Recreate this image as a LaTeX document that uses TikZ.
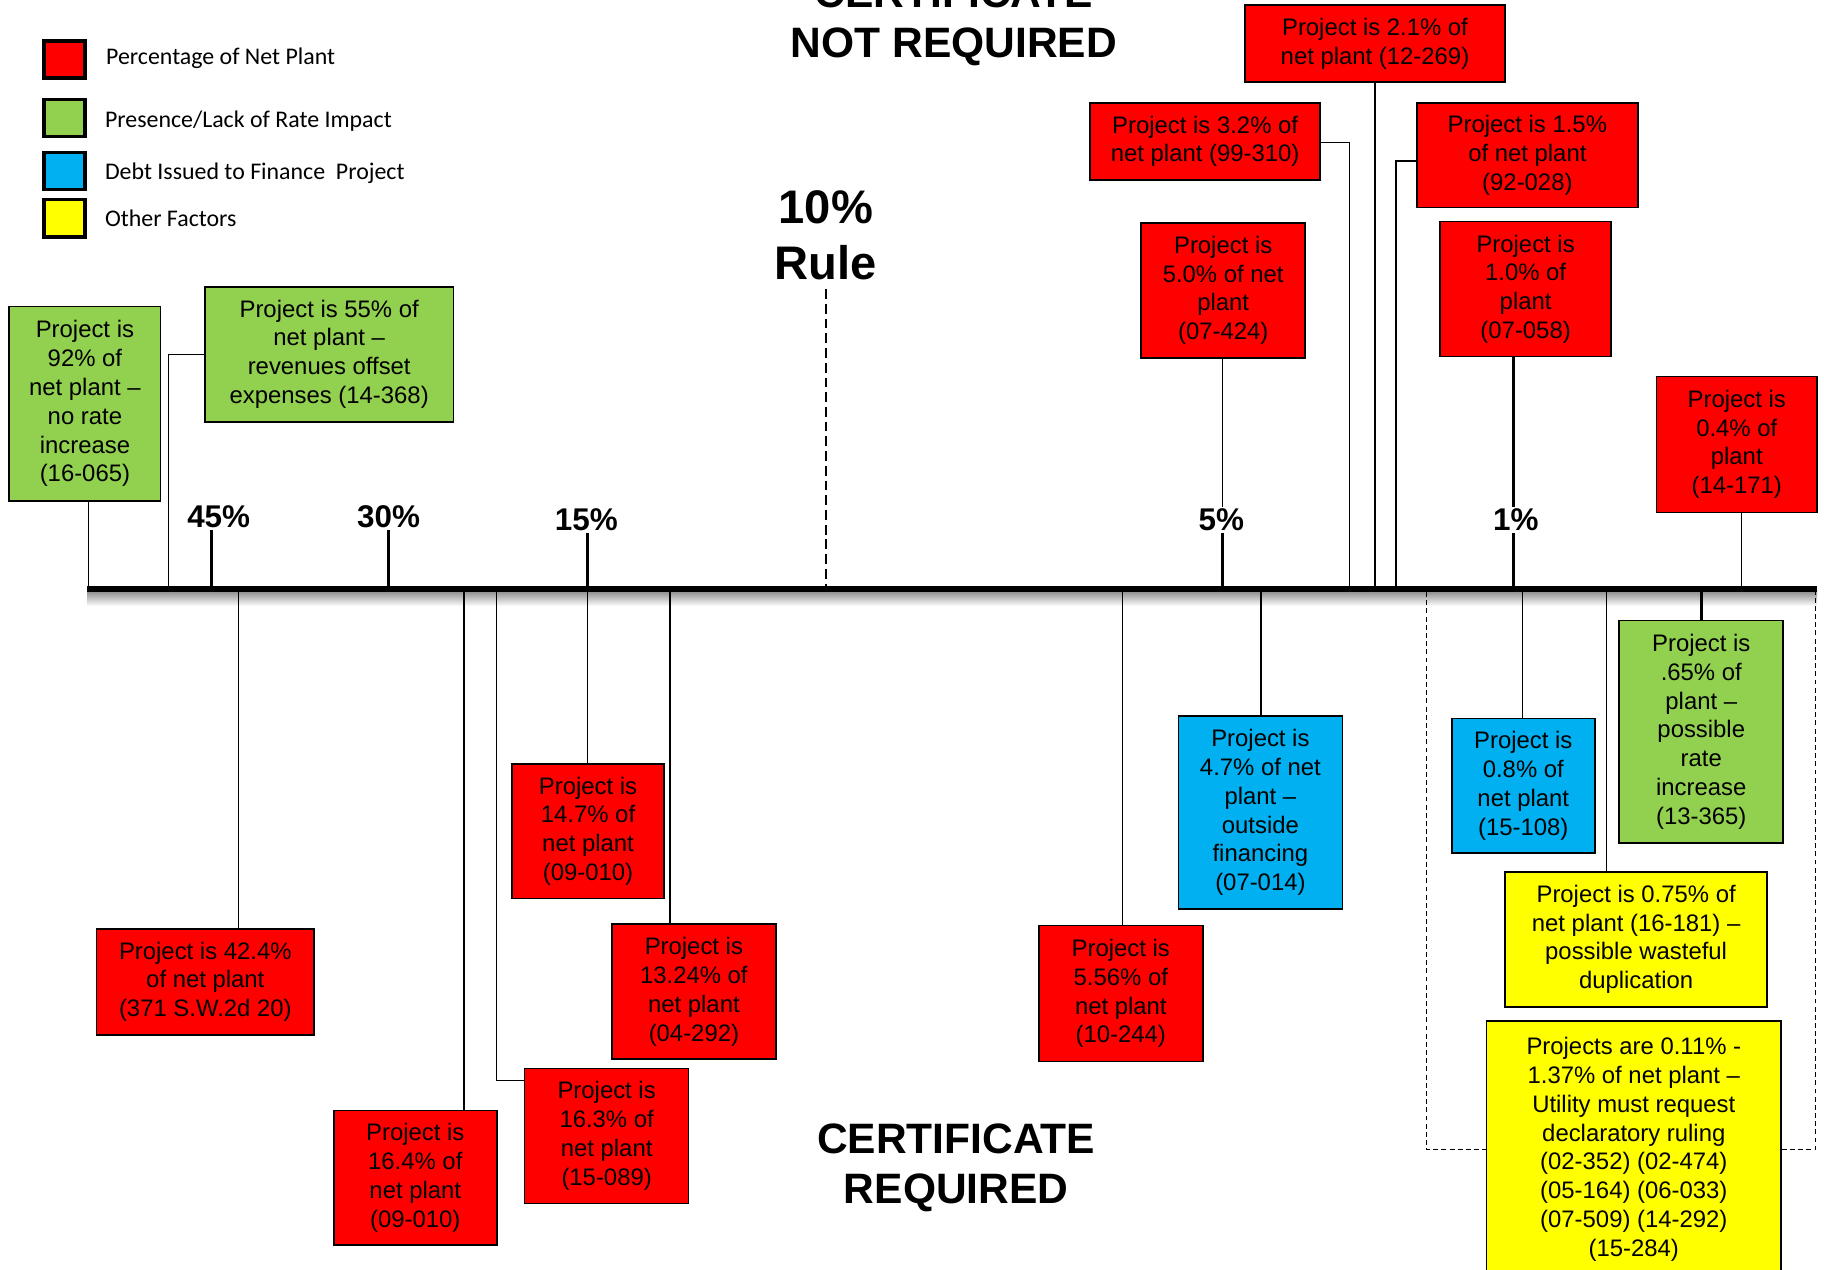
\documentclass[tikz,border=0pt]{standalone}
\usepackage{fontspec}
\setmainfont{Liberation Sans}
\newfontfamily\legendfont{Carlito}
\usetikzlibrary{calc}
\definecolor{netred}{HTML}{FF0000}
\definecolor{rategreen}{HTML}{92D050}
\definecolor{debtblue}{HTML}{00B0F0}
\definecolor{otheryellow}{HTML}{FFFF00}

\begin{document}
\begin{tikzpicture}[x=0.025cm, y=-0.025cm, sz/.style 2 args={minimum width=#1*0.025cm, minimum height=#2*0.025cm}, box/.style={draw, line width=1pt, align=center, inner sep=0pt, font=\fontsize{14.6}{17.6}\selectfont}, rbox/.style={box, fill=netred}, gbox/.style={box, fill=rategreen}, bbox/.style={box, fill=debtblue}, ybox/.style={box, fill=otheryellow}, key/.style={draw, line width=2.2pt, inner sep=0pt, sz={35}{32}}, keytext/.style={anchor=west, inner sep=0pt, font=\legendfont\fontsize{14.6}{17.6}\selectfont}, head/.style={align=center, inner sep=0pt, font=\bfseries\fontsize{26}{30.6}\selectfont}, tenrule/.style={align=center, inner sep=0pt, font=\bfseries\fontsize{28.8}{34.1}\selectfont}, pct/.style={inner sep=1pt, font=\bfseries\fontsize{19.2}{23}\selectfont}, link/.style={line width=0.8pt}, tick/.style={line width=1.8pt}, axisline/.style={line width=3.6pt}, tenline/.style={line width=0.8pt, dash pattern=on 6pt off 3pt}, bracket/.style={line width=0.7pt, dash pattern=on 3pt off 2pt}]
            \path[use as bounding box, fill=white] (0,0) rectangle (1568,1091);
            % legend
            \node[key, fill=netred] (kr) at (55.5,51) {};
            \node[keytext] (tr) at (91,50) {Percentage of Net Plant};
            \node[key, fill=rategreen] (kg) at (55.5,101.5) {};
            \node[keytext] (tg) at (90,104) {Presence/Lack of Rate Impact};
            \node[key, fill=debtblue] (kb) at (55.5,147) {};
            \node[keytext] (tb) at (90,149) {Debt Issued to Finance\ \ Project};
            \node[key, fill=otheryellow] (ky) at (55.5,187.5) {};
            \node[keytext] (ty) at (90,188) {Other Factors};
            % headings
            \node[head] (notreq) at (820,19) {CERTIFICATE\\NOT REQUIRED};
            \node[head] (req) at (822,1004) {CERTIFICATE\\REQUIRED};
            \node[tenrule] (tenpct) at (710,202) {10\%\\Rule};
            % axis
            \coordinate (ax0) at (75,506);
            \coordinate (ax1) at (1562,506);
            \shade[top color=black!45, bottom color=white] (75,508) rectangle (1562,521);
            \draw[axisline] (ax0) -- (ax1);
            \draw[tenline] ([yshift=-8*0.025cm]tenpct.south) -- (tenpct.south |- ax0);
            % scale marks
            \node[pct] (p45) at (188,444) {45\%};
            \node[pct] (p30) at (334,444) {30\%};
            \node[pct] (p15) at (504,447) {15\%};
            \node[pct] (p5) at (1050,447) {5\%};
            \node[pct] (p1) at (1303,447) {1\%};
            \coordinate (k45) at (182,506);
            \coordinate (k30) at (334,506);
            \coordinate (k15) at (505,506);
            \coordinate (k5) at (1051,506);
            \coordinate (k1) at (1301,506);
            \draw[tick] (k45) -- (k45 |- p45.south);
            \draw[tick] (k30) -- (k30 |- p30.south);
            \draw[tick] (k15) -- (k15 |- p15.south);
            \draw[tick] (k5) -- (k5 |- p5.south);
            \draw[tick] (k1) -- (k1 |- p1.south);
            % projects above the line
            \node[gbox, sz={130}{167}] (g92) at (73,347) {Project is\\92\% of\\net plant --\\no rate\\increase\\(16-065)};
            \node[gbox, sz={214}{116}] (g55) at (283,304.5) {Project is 55\% of\\net plant --\\revenues offset\\expenses (14-368)};
            \node[rbox, sz={224}{66}] (r21) at (1182,37.5) {Project is 2.1\% of\\net plant (12-269)};
            \node[rbox, sz={198}{66}] (r32) at (1036,121.5) {Project is 3.2\% of\\net plant (99-310)};
            \node[rbox, sz={190}{90}] (r15) at (1313,133.5) {Project is 1.5\%\\of net plant\\(92-028)};
            \node[rbox, sz={141}{116}] (r50) at (1051.5,249.5) {Project is\\5.0\% of net\\plant\\(07-424)};
            \node[rbox, sz={147}{116}] (r10) at (1311.5,248.5) {Project is\\1.0\% of\\plant\\(07-058)};
            \node[rbox, sz={138}{117}] (r04) at (1493,382) {Project is\\0.4\% of\\plant\\(14-171)};
            % projects below the line
            \node[rbox, sz={187}{91}] (r424) at (176.5,844) {Project is 42.4\%\\of net plant\\(371 S.W.2d 20)};
            \node[rbox, sz={140}{116}] (r164) at (357,1012.5) {Project is\\16.4\% of\\net plant\\(09-010)};
            \node[rbox, sz={141}{116}] (r163) at (521.5,976.5) {Project is\\16.3\% of\\net plant\\(15-089)};
            \node[rbox, sz={131}{116}] (r147) at (505.5,714.5) {Project is\\14.7\% of\\net plant\\(09-010)};
            \node[rbox, sz={141}{116}] (r1324) at (596.5,852.5) {Project is\\13.24\% of\\net plant\\(04-292)};
            \node[rbox, sz={141}{117}] (r556) at (963.5,854) {Project is\\5.56\% of\\net plant\\(10-244)};
            \node[bbox, sz={141}{166}] (b47) at (1083.5,698.5) {Project is\\4.7\% of net\\plant --\\outside\\financing\\(07-014)};
            \node[bbox, sz={123}{116}] (b08) at (1309.5,675.5) {Project is\\0.8\% of\\net plant\\(15-108)};
            \node[gbox, sz={141}{191}] (g065) at (1462.5,629) {Project is\\.65\% of\\plant --\\possible\\rate\\increase\\(13-365)};
            \node[ybox, sz={225}{116}] (y075) at (1406.5,807.5) {Project is 0.75\% of\\net plant (16-181) --\\possible wasteful\\duplication};
            \node[ybox, sz={253}{221}] (yall) at (1404.5,988) {Projects are 0.11\% -\\1.37\% of net plant --\\Utility must request\\declaratory ruling\\(02-352) (02-474)\\(05-164) (06-033)\\(07-509) (14-292)\\(15-284)};
            % points on the line
            \coordinate (a92) at (76,506);
            \coordinate (a55) at (145,506);
            \coordinate (a32) at (1160,506);
            \coordinate (a15) at (1200,506);
            \coordinate (a04) at (1497,506);
            \coordinate (a424) at (205,506);
            \coordinate (a164) at (399,506);
            \coordinate (a163) at (427,506);
            \coordinate (a1324) at (576,506);
            \coordinate (a556) at (965,506);
            \coordinate (a47) at (1084,506);
            \coordinate (a08) at (1309,506);
            \coordinate (a065) at (1463,506);
            \coordinate (a075) at (1381,506);
            \coordinate (aL) at (1226,509);
            \coordinate (aR) at (1561,509);
            % edges
            \draw[link] (a92 |- g92.south) -- (a92);
            \draw[link] (g55.west) -| (a55);
            \draw[link] (r21.south) -- (r21.south |- ax0);
            \draw[link] ([yshift=-1*0.025cm]r32.east) -| (a32);
            \draw[link] ([yshift=-5*0.025cm]r15.west) -| (a15);
            \draw[link] (k5 |- r50.south) -- (k5 |- p5.north);
            \draw[tick] (k1 |- r10.south) -- (k1 |- p1.north);
            \draw[link] (a04) -- (a04 |- r04.south);
            \draw[link] (a424) -- (a424 |- r424.north);
            \draw[link] (a164) -- (a164 |- r164.north);
            \draw[link] (a163) |- ($(r163.north west)+(0,11)$);
            \draw[link] (k15) -- (k15 |- r147.north);
            \draw[link] (a1324) -- (a1324 |- r1324.north);
            \draw[link] (a556) -- (a556 |- r556.north);
            \draw[link] (a47) -- (a47 |- b47.north);
            \draw[link] (a08) -- (a08 |- b08.north);
            \draw[tick] (a065) -- (a065 |- g065.north);
            \draw[link] (a075) -- (a075 |- y075.north);
            \draw[bracket] (aL) |- (yall.west);
            \draw[bracket] (yall.east) -| (aR);
        \end{tikzpicture}
\end{document}
